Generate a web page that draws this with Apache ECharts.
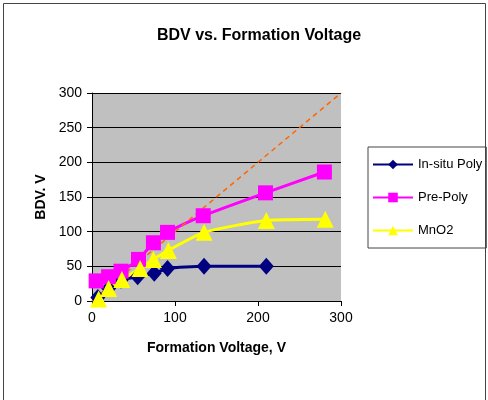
<!DOCTYPE html>
<html>
<head>
<meta charset="utf-8">
<script src="https://cdn.jsdelivr.net/npm/echarts@6/dist/echarts.min.js"></script>
<style>
html, body, #main { margin: 0; padding: 0; width: 488px; height: 400px; overflow: hidden; background: #fff; }
</style>
</head>
<body>
<div id="main"></div>
<script>
// data
var seriesNames = ["In-situ Poly", "Pre-Poly", "MnO2"];
var insituX = [7, 20, 35, 55, 75, 91, 135, 210];
var insituY = [5, 18, 30, 35, 40, 47, 50, 50];
var prepolyX = [5, 20, 35, 56, 74, 91, 134, 209, 280];
var prepolyY = [29, 35, 43, 60, 84, 99, 123, 156, 186];
var mno2X = [8, 20, 36, 58, 74, 92, 135, 210, 281];
var mno2Y = [3, 18, 31, 47, 60, 73, 99, 116, 118];
var refX = [0, 300];
var refY = [0, 300];

function pairs(xs, ys) {
  return xs.map(function (x, i) { return [x, ys[i]]; });
}

var myChart = echarts.init(document.getElementById("main"));
var font = "Liberation Sans";
var option = {
  animation: false,
  backgroundColor: "#fff",
  title: {
    text: "BDV vs. Formation Voltage",
    left: 254, top: 23, textAlign: "center",
    textStyle: { fontFamily: font, fontSize: 16, fontWeight: "bold", color: "#000" }
  },
  graphic: [{
    type: "rect", shape: { x: 3.5, y: 3.5, width: 482, height: 400 },
    style: { fill: null, stroke: "#444", lineWidth: 1 }, silent: true
  }],
  legend: {
    data: seriesNames,
    orient: "vertical",
    left: 368, top: 147,
    padding: [11, 4, 11, 4],
    itemGap: 20,
    itemWidth: 40, itemHeight: 12,
    borderColor: "#444", borderWidth: 1,
    textStyle: { fontFamily: font, fontSize: 13, color: "#000" }
  },
  grid: { left: 92, right: 147, top: 93, bottom: 99 },
  xAxis: {
    type: "value", min: 0, max: 300, interval: 100,
    name: "Formation Voltage, V", nameLocation: "middle", nameGap: 40,
    nameTextStyle: { fontFamily: font, fontSize: 14, fontWeight: "bold", color: "#000" },
    axisLine: { lineStyle: { color: "#000", width: 1 } },
    axisTick: { show: true, length: 5, inside: false, lineStyle: { color: "#000" } },
    axisLabel: { fontFamily: font, fontSize: 14, color: "#000", margin: 10 },
    splitLine: { show: false }
  },
  yAxis: {
    type: "value", min: 0, max: 300, interval: 50,
    name: "BDV. V", nameLocation: "middle", nameGap: 40, nameRotate: 90,
    nameTextStyle: { fontFamily: font, fontSize: 14, fontWeight: "bold", color: "#000" },
    axisLine: { show: true, lineStyle: { color: "#000", width: 1 } },
    axisTick: { show: true, length: 5, lineStyle: { color: "#000" } },
    axisLabel: { fontFamily: font, fontSize: 14, color: "#000", margin: 10 },
    splitLine: { show: true, lineStyle: { color: "#000", width: 1 } },
    splitArea: { show: true, areaStyle: { color: ["#C0C0C0", "#C0C0C0"] } }
  },
  series: [
    {
      name: seriesNames[0], type: "line", data: pairs(insituX, insituY),
      smooth: 0.2, symbol: "diamond", symbolSize: [15, 17],
      itemStyle: { color: "#000080" }, lineStyle: { color: "#000080", width: 3 }
    },
    {
      name: seriesNames[1], type: "line", data: pairs(prepolyX, prepolyY),
      smooth: 0.2, symbol: "rect", symbolSize: 15,
      itemStyle: { color: "#FF00FF" }, lineStyle: { color: "#FF00FF", width: 3 }
    },
    {
      name: seriesNames[2], type: "line", data: pairs(mno2X, mno2Y),
      smooth: 0.2, symbol: "triangle", symbolSize: [17, 17],
      itemStyle: { color: "#FFFF00" }, lineStyle: { color: "#FFFF00", width: 3 }
    },
    {
      name: "ref", type: "line", data: pairs(refX, refY),
      symbol: "none", silent: true,
      lineStyle: { color: "#FF6600", width: 1.5, type: [5, 4] }
    }
  ]
};
myChart.setOption(option);
window.onresize = myChart.resize;
</script>
</body>
</html>
